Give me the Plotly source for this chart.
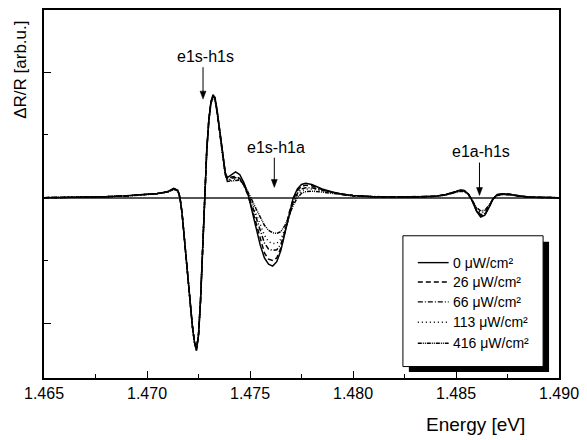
import plotly.graph_objects as go

# ---------------- data ----------------
energy = [
    1.4650, 1.4660, 1.4670, 1.4680, 1.4690, 1.4700, 1.4705, 1.4710, 1.4713, 1.4715,
    1.4716, 1.4717, 1.4718, 1.4719, 1.4720, 1.4721, 1.4722, 1.4723, 1.4724, 1.4725,
    1.4726, 1.4727, 1.4728, 1.4729, 1.4730, 1.4731, 1.4732, 1.4733, 1.4734, 1.4735,
    1.4736, 1.4737, 1.4738, 1.4739, 1.4741, 1.4743, 1.4745, 1.4747, 1.4749, 1.4751,
    1.4753, 1.4755, 1.4757, 1.4759, 1.4761, 1.4763, 1.4765, 1.4767, 1.4769, 1.4771,
    1.4773, 1.4775, 1.4777, 1.4780, 1.4785, 1.4790, 1.4795, 1.4800, 1.4810, 1.4820,
    1.4830, 1.4840, 1.4845, 1.4850, 1.4852, 1.4854, 1.4856, 1.4858, 1.4860, 1.4862,
    1.4864, 1.4866, 1.4868, 1.4870, 1.4873, 1.4876, 1.4880, 1.4885, 1.4890, 1.4900]

dr_0 = [
    0.000, 0.001, 0.003, 0.008, 0.015, 0.025, 0.033, 0.048, 0.075, 0.060,
    0.000, -0.120, -0.300, -0.480, -0.700, -0.860, -1.020, -1.150, -1.220, -1.100,
    -0.820, -0.420, 0.000, 0.380, 0.620, 0.760, 0.820, 0.800, 0.700, 0.580,
    0.450, 0.310, 0.200, 0.160, 0.185, 0.205, 0.185, 0.120, 0.030, -0.100,
    -0.240, -0.380, -0.480, -0.530, -0.545, -0.510, -0.420, -0.280, -0.120, 0.000,
    0.070, 0.105, 0.115, 0.105, 0.070, 0.045, 0.028, 0.018, 0.008, 0.005,
    0.006, 0.012, 0.025, 0.050, 0.062, 0.058, 0.030, -0.030, -0.110, -0.155,
    -0.140, -0.080, -0.010, 0.025, 0.032, 0.028, 0.015, 0.006, 0.002, 0.000]

dr_26 = [
    0.000, 0.001, 0.003, 0.008, 0.015, 0.025, 0.033, 0.048, 0.072, 0.058,
    0.000, -0.120, -0.300, -0.480, -0.700, -0.860, -1.020, -1.150, -1.215, -1.100,
    -0.820, -0.420, 0.000, 0.380, 0.620, 0.760, 0.815, 0.795, 0.695, 0.575,
    0.445, 0.305, 0.195, 0.150, 0.165, 0.170, 0.155, 0.100, 0.020, -0.090,
    -0.210, -0.340, -0.440, -0.490, -0.500, -0.480, -0.400, -0.270, -0.120, -0.010,
    0.055, 0.090, 0.100, 0.095, 0.065, 0.042, 0.027, 0.017, 0.008, 0.005,
    0.006, 0.012, 0.024, 0.048, 0.060, 0.056, 0.030, -0.030, -0.105, -0.148,
    -0.135, -0.075, -0.010, 0.024, 0.031, 0.027, 0.015, 0.006, 0.002, 0.000]

dr_66 = [
    0.000, 0.001, 0.003, 0.008, 0.015, 0.025, 0.033, 0.047, 0.070, 0.056,
    0.000, -0.120, -0.300, -0.480, -0.700, -0.860, -1.020, -1.150, -1.210, -1.095,
    -0.815, -0.415, 0.000, 0.375, 0.615, 0.755, 0.810, 0.790, 0.690, 0.570,
    0.440, 0.300, 0.190, 0.140, 0.155, 0.160, 0.150, 0.100, 0.030, -0.060,
    -0.160, -0.270, -0.360, -0.410, -0.420, -0.415, -0.370, -0.270, -0.140, -0.030,
    0.035, 0.070, 0.080, 0.080, 0.060, 0.040, 0.026, 0.017, 0.008, 0.005,
    0.006, 0.012, 0.023, 0.046, 0.057, 0.053, 0.028, -0.028, -0.100, -0.135,
    -0.125, -0.070, -0.010, 0.022, 0.029, 0.026, 0.014, 0.006, 0.002, 0.000]

dr_113 = [
    0.000, 0.001, 0.003, 0.008, 0.015, 0.025, 0.032, 0.046, 0.068, 0.055,
    0.000, -0.120, -0.300, -0.480, -0.700, -0.860, -1.020, -1.145, -1.205, -1.090,
    -0.810, -0.410, 0.000, 0.370, 0.610, 0.750, 0.805, 0.785, 0.685, 0.565,
    0.435, 0.295, 0.185, 0.135, 0.145, 0.150, 0.145, 0.100, 0.035, -0.040,
    -0.130, -0.220, -0.300, -0.350, -0.365, -0.365, -0.330, -0.250, -0.140, -0.040,
    0.020, 0.055, 0.068, 0.070, 0.055, 0.038, 0.025, 0.016, 0.008, 0.005,
    0.006, 0.011, 0.022, 0.044, 0.055, 0.051, 0.027, -0.026, -0.090, -0.120,
    -0.115, -0.065, -0.010, 0.020, 0.027, 0.024, 0.013, 0.005, 0.002, 0.000]

dr_416 = [
    0.000, 0.001, 0.003, 0.008, 0.014, 0.024, 0.031, 0.045, 0.066, 0.053,
    0.000, -0.120, -0.300, -0.480, -0.700, -0.860, -1.015, -1.140, -1.200, -1.085,
    -0.805, -0.405, 0.000, 0.365, 0.605, 0.745, 0.800, 0.780, 0.680, 0.560,
    0.430, 0.290, 0.180, 0.130, 0.135, 0.140, 0.140, 0.110, 0.050, -0.020,
    -0.090, -0.160, -0.220, -0.260, -0.280, -0.285, -0.270, -0.220, -0.140, -0.060,
    0.000, 0.035, 0.048, 0.052, 0.045, 0.033, 0.022, 0.014, 0.007, 0.005,
    0.006, 0.011, 0.021, 0.042, 0.052, 0.049, 0.026, -0.024, -0.080, -0.105,
    -0.100, -0.060, -0.010, 0.018, 0.025, 0.022, 0.012, 0.005, 0.002, 0.000]

series_names = ["0 \u03bcW/cm\u00b2", "26 \u03bcW/cm\u00b2", "66 \u03bcW/cm\u00b2",
                "113 \u03bcW/cm\u00b2", "416 \u03bcW/cm\u00b2"]
series_values = [dr_0, dr_26, dr_66, dr_113, dr_416]
series_dash = ["solid", "5px,3px", "5px,2px,1px,2px", "1px,3px", "4px,1px,1px,1px,1px,1px"]

peak_labels = ["e1s-h1s", "e1s-h1a", "e1a-h1s"]
peak_energy = [1.47272, 1.47618, 1.48614]
peak_arrow_top = [1.04, 0.319, 0.28]
peak_arrow_tip = [0.786, 0.082, 0.018]
peak_label_y = [1.127, 0.40, 0.366]
peak_label_x = [1.47282, 1.47624, 1.48620]

x_ticks = [1.465, 1.470, 1.475, 1.480, 1.485, 1.490]
x_tick_labels = ["1.465", "1.470", "1.475", "1.480", "1.485", "1.490"]

# ---------------- figure ----------------
FONT = "Liberation Sans, Arial, sans-serif"
W, H = 587, 440
ML, MR, MT, MB = 44, 25, 8, 62
PW, PH = W - ML - MR, H - MT - MB
X0, X1 = 1.465, 1.490
Y0, Y1 = -1.437, 1.496
XPP = (X1 - X0) / PW      # energy per pixel
YPP = (Y1 - Y0) / PH      # y units per pixel


def px(xp):
    return (xp - ML) / PW


def py(yp):
    return (H - MB - yp) / PH


fig = go.Figure()
for name, vals, dash in zip(series_names, series_values, series_dash):
    fig.add_trace(go.Scatter(x=energy, y=vals, mode="lines", name=name,
                             line=dict(color="black", width=1.5, dash=dash),
                             showlegend=False))

shapes = []
annotations = []

# custom legend with drop shadow
shapes.append(dict(type="rect", xref="paper", yref="paper", x0=px(411), x1=px(552),
                   y0=py(372), y1=py(241), fillcolor="black", line=dict(width=0), layer="above"))
shapes.append(dict(type="rect", xref="paper", yref="paper", x0=px(405), x1=px(546),
                   y0=py(366.5), y1=py(235), fillcolor="white",
                   line=dict(color="black", width=1), layer="above"))
rows = [262, 281.5, 301.5, 322, 343]
for r, name, dash in zip(rows, series_names, series_dash):
    shapes.append(dict(type="line", xref="paper", yref="paper", x0=px(420), x1=px(451),
                       y0=py(r), y1=py(r), line=dict(color="black", width=1.4, dash=dash),
                       layer="above"))
    annotations.append(dict(xref="paper", yref="paper", x=px(453), y=py(r), text=name,
                            showarrow=False, xanchor="left", yanchor="middle",
                            font=dict(family=FONT, size=14, color="black")))

# peak labels and arrows (arrow = line + filled triangle head)
for lab, xe, yt, ytip, ly, lx in zip(peak_labels, peak_energy, peak_arrow_top,
                                     peak_arrow_tip, peak_label_y, peak_label_x):
    annotations.append(dict(x=lx, y=ly, xref="x", yref="y", text=lab, showarrow=False,
                            xanchor="center", yanchor="middle",
                            font=dict(family=FONT, size=16, color="black")))
    shapes.append(dict(type="line", xref="x", yref="y", x0=xe, x1=xe, y0=yt, y1=ytip + 6 * YPP,
                       line=dict(color="black", width=1)))
    hx, hy = 3 * XPP, 8 * YPP
    path = f"M {xe - hx} {ytip + hy} L {xe + hx} {ytip + hy} L {xe} {ytip} Z"
    shapes.append(dict(type="path", xref="x", yref="y", path=path,
                       fillcolor="black", line=dict(color="black", width=0.5)))

# axis titles
annotations.append(dict(xref="paper", yref="paper", x=px(21), y=py(68), text="\u0394R/R [arb.u.]",
                        textangle=-90, showarrow=False, xanchor="center", yanchor="middle",
                        font=dict(family=FONT, size=17, color="black")))
annotations.append(dict(xref="paper", yref="paper", x=px(478), y=py(425), text="Energy [eV]",
                        showarrow=False, xanchor="center", yanchor="middle",
                        font=dict(family=FONT, size=19, color="black")))

fig.update_layout(
    width=W, height=H,
    margin=dict(l=ML, r=MR, t=MT, b=MB),
    paper_bgcolor="white", plot_bgcolor="white",
    shapes=shapes, annotations=annotations,
    showlegend=False,
    xaxis=dict(range=[X0, X1], tickvals=x_ticks, ticktext=x_tick_labels,
               ticks="inside", ticklen=7, tickwidth=1.3, tickcolor="black",
               minor=dict(ticks="inside", ticklen=4, tickwidth=1.3, tickcolor="black", dtick=0.0025),
               showline=True, linecolor="black", linewidth=1.6, mirror=True,
               showgrid=False, zeroline=False,
               tickfont=dict(family=FONT, size=16, color="black")),
    yaxis=dict(range=[Y0, Y1], tickvals=[-1, 0, 1], showticklabels=False,
               ticks="inside", ticklen=7, tickwidth=1.3, tickcolor="black",
               minor=dict(ticks="inside", ticklen=4, tickwidth=1.3, tickcolor="black", dtick=0.5),
               showline=True, linecolor="black", linewidth=1.6, mirror=True,
               showgrid=False, zeroline=True, zerolinecolor="#555555", zerolinewidth=1.6),
)

fig.write_html("out.html")
